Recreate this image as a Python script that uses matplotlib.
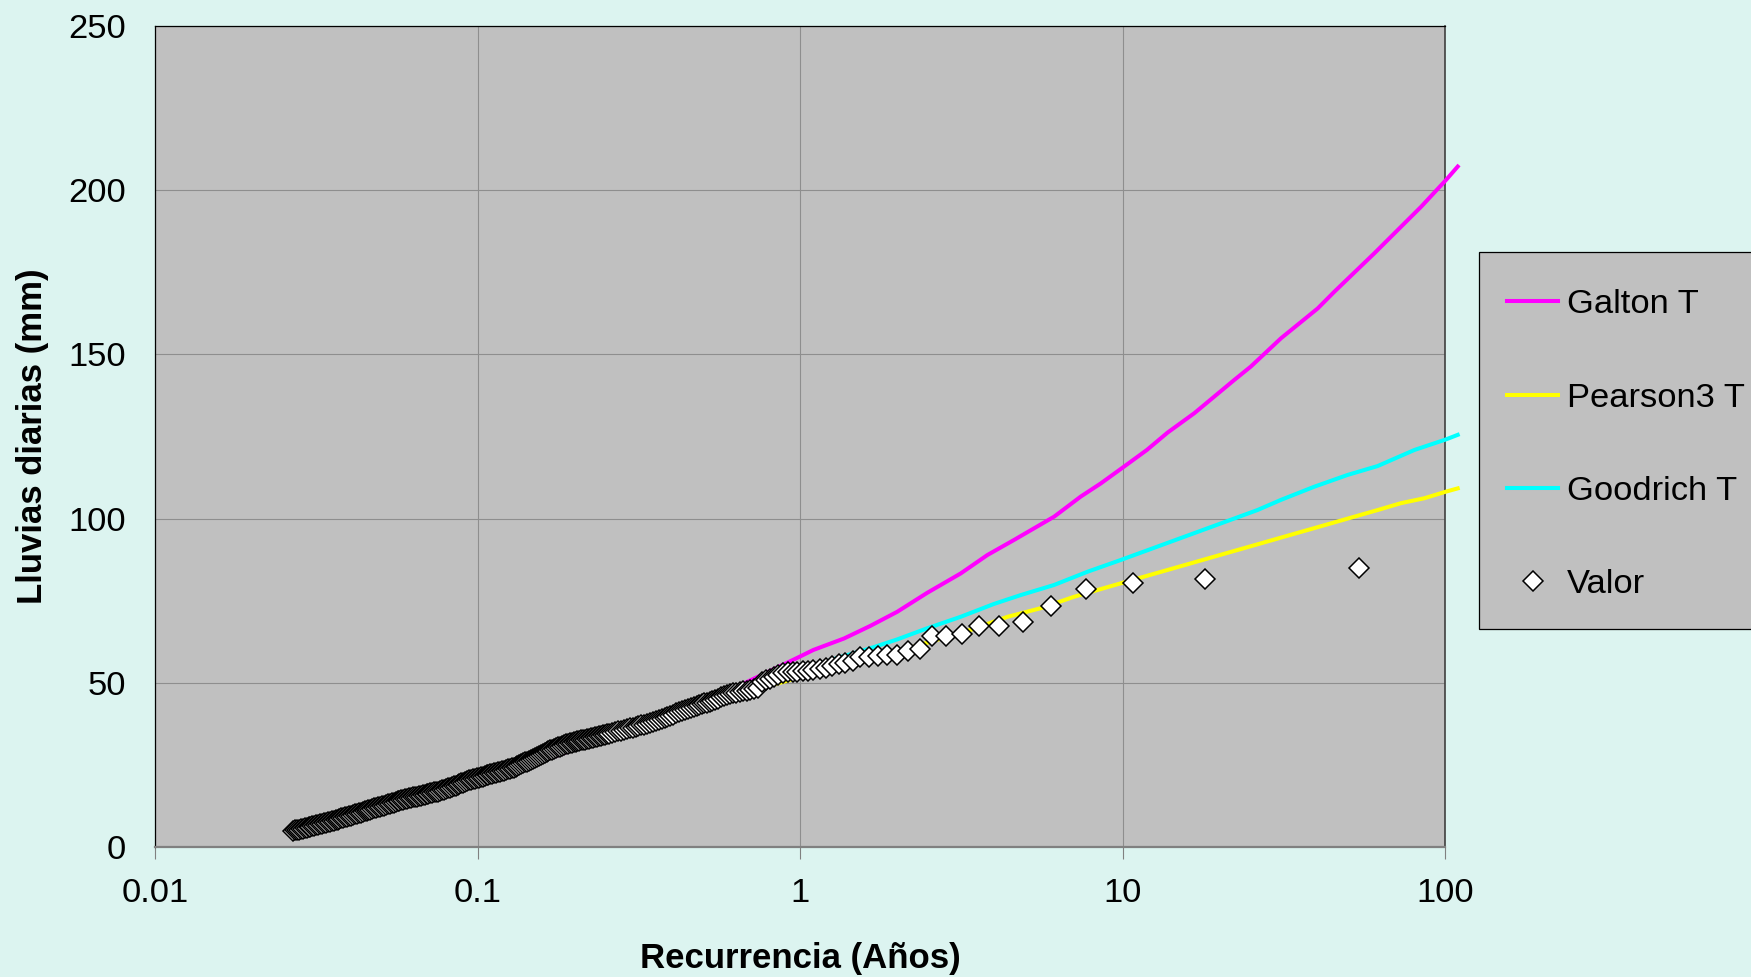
import numpy as np
import matplotlib
matplotlib.use("Agg")
import matplotlib.pyplot as plt
from matplotlib.patches import Rectangle
from matplotlib.ticker import FixedLocator, FixedFormatter, NullLocator

plt.rcParams['font.family'] = ['Liberation Sans', 'DejaVu Sans']

# ---------------- data ----------------
# isolated observed points (Recurrencia in years, Valor in mm)
valor_T = [54.0, 18.0, 10.8, 7.71, 6.0, 4.91, 4.15, 3.6, 3.18, 2.84,
           2.57, 2.35, 2.16, 2.0, 1.86, 1.74, 1.64, 1.54, 1.46, 1.38,
           1.32, 1.26, 1.2, 1.15, 1.10, 1.06, 1.02, 0.98, 0.95, 0.92]
valor_mm = [84.9, 81.7, 80.5, 78.5, 73.4, 68.4, 67.4, 67.4, 64.8, 64.4,
            64.2, 60.2, 59.6, 58.5, 58.5, 58.2, 58.0, 57.8, 56.7, 56.0,
            55.6, 55.2, 54.6, 54.2, 53.9, 53.7, 53.5, 53.4, 53.3, 53.2]

# dense band of observed points (log10 of Recurrencia, Valor in mm)
banda_log10_T = [
    -1.572, -1.566, -1.560, -1.554, -1.548, -1.542,
    -1.536, -1.530, -1.524, -1.518, -1.512, -1.506, -1.500,
    -1.494, -1.488, -1.482, -1.476, -1.470, -1.464, -1.458, -1.452, -1.446, -1.440,
    -1.434, -1.428, -1.422, -1.416, -1.410, -1.404,
    -1.398, -1.392, -1.386, -1.380, -1.374, -1.368, -1.362, -1.356, -1.350, -1.344, -1.338,
    -1.332, -1.326, -1.320, -1.314, -1.308, -1.302, -1.296, -1.290, -1.284,
    -1.278, -1.272, -1.266, -1.260, -1.254, -1.248, -1.242, -1.236, -1.230,
    -1.224, -1.218, -1.212, -1.206, -1.200, -1.194, -1.188, -1.182,
    -1.176, -1.170, -1.164, -1.158, -1.152, -1.146, -1.140, -1.134, -1.128,
    -1.122, -1.116, -1.110, -1.104, -1.098, -1.092, -1.086, -1.080,
    -1.074, -1.068, -1.062, -1.056, -1.050, -1.044, -1.038, -1.032, -1.026,
    -1.020, -1.014, -1.008, -1.002, -0.996, -0.990, -0.984, -0.978, -0.972,
    -0.966, -0.960, -0.954, -0.948, -0.942, -0.936, -0.930, -0.924,
    -0.918, -0.912, -0.906, -0.900, -0.894, -0.888, -0.882,
    -0.876, -0.870, -0.864, -0.858, -0.852, -0.846, -0.840,
    -0.834, -0.828, -0.822, -0.816, -0.810, -0.804, -0.798,
    -0.792, -0.786, -0.780, -0.774, -0.768, -0.762, -0.756, -0.750, -0.744, -0.738,
    -0.732, -0.726, -0.720, -0.714, -0.708, -0.702, -0.696, -0.690, -0.684,
    -0.678, -0.672, -0.666, -0.660, -0.654, -0.648, -0.642, -0.636, -0.630,
    -0.624, -0.618, -0.612, -0.606, -0.600,
    -0.591, -0.582, -0.573, -0.564, -0.555, -0.546, -0.537, -0.528,
    -0.519, -0.510, -0.501, -0.492, -0.483, -0.474,
    -0.465, -0.456, -0.447, -0.438, -0.429,
    -0.420, -0.411, -0.402, -0.393, -0.384, -0.375,
    -0.366, -0.357, -0.348, -0.339, -0.330,
    -0.3207, -0.3129, -0.3050, -0.2970, -0.2889, -0.2804, -0.2719,
    -0.2632, -0.2544, -0.2454, -0.2361, -0.2266, -0.2170, -0.2071,
    -0.1970, -0.1866, -0.1761, -0.1653, -0.1541, -0.1427, -0.1309,
    -0.1189, -0.1065, -0.0937, -0.0805, -0.0670, -0.0530,
]
banda_mm = [
    5.0, 5.1, 5.2, 5.3, 5.5, 5.6,
    5.7, 5.9, 6.0, 6.2, 6.3, 6.5, 6.6,
    6.8, 6.9, 7.1, 7.2, 7.4, 7.6, 7.7, 7.9, 8.0, 8.2,
    8.35, 8.5, 8.7, 8.9, 9.0, 9.2,
    9.35, 9.5, 9.7, 9.9, 10.1, 10.3, 10.5, 10.7, 10.9, 11.1, 11.3,
    11.4, 11.6, 11.8, 11.9, 12.1, 12.3, 12.5, 12.6, 12.8,
    12.95, 13.1, 13.3, 13.5, 13.7, 13.9, 14.0, 14.2, 14.4,
    14.5, 14.7, 14.8, 14.9, 15.1, 15.2, 15.3, 15.5,
    15.6, 15.7, 15.9, 16.0, 16.2, 16.3, 16.5, 16.6, 16.8,
    16.9, 17.1, 17.3, 17.5, 17.7, 17.9, 18.1, 18.3,
    18.5, 18.7, 19.0, 19.2, 19.4, 19.6, 19.8, 20.0, 20.3,
    20.45, 20.6, 20.8, 20.9, 21.1, 21.3, 21.4, 21.6, 21.8,
    21.9, 22.1, 22.2, 22.4, 22.6, 22.7, 22.9, 23.1,
    23.2, 23.4, 23.6, 23.8, 24.0, 24.2, 24.4,
    24.7, 25.0, 25.2, 25.5, 25.8, 26.0, 26.3,
    26.6, 26.9, 27.2, 27.5, 27.8, 28.1, 28.4,
    28.6, 28.9, 29.1, 29.4, 29.6, 29.9, 30.1, 30.4, 30.6, 30.9,
    31.1, 31.3, 31.4, 31.6, 31.7, 31.9, 32.0, 32.2, 32.3,
    32.45, 32.6, 32.7, 32.9, 33.0, 33.2, 33.3, 33.4, 33.6,
    33.7, 33.9, 34.0, 34.2, 34.3,
    34.5, 34.7, 35.0, 35.2, 35.4, 35.6, 35.8, 36.1,
    36.3, 36.6, 36.8, 37.1, 37.3, 37.6,
    37.85, 38.1, 38.4, 38.7, 39.0,
    39.3, 39.7, 40.0, 40.3, 40.7, 41.0,
    41.3, 41.7, 42.0, 42.3, 42.6,
    42.9, 43.2, 43.5, 43.8, 44.0, 44.3, 44.6,
    44.9, 45.2, 45.6, 45.9, 46.2, 46.6, 46.8,
    47.0, 47.2, 47.4, 47.6, 47.8, 48.0, 48.3,
    50.2, 50.8, 51.3, 51.9, 52.4, 52.9,
]

# fitted distributions
galton_T = [0.027, 0.04, 0.06, 0.1, 0.17, 0.3, 0.5, 0.67, 0.89, 1.0, 1.1, 1.37,
            1.65, 2.0, 2.48, 3.15, 3.81, 4.61, 6.14, 7.42, 8.56, 10.1, 11.9,
            13.8, 16.7, 22.2, 25.0, 31.0, 40.3, 45.4, 60.4, 84.4, 100.7, 109.5]
galton_mm = [5.0, 9.5, 14.5, 21.0, 27.3, 36.0, 44.0, 49.8, 55.6, 58.0, 60.0, 63.5,
             67.3, 71.6, 77.4, 83.3, 88.9, 93.5, 100.6, 106.7, 110.7, 115.8, 120.9,
             126.2, 132.1, 142.2, 146.3, 154.9, 164.0, 169.1, 180.8, 195.0, 203.1, 207.2]

pearson_T = [0.027, 0.06, 0.1, 0.17, 0.3, 0.5, 0.89, 1.0, 1.65, 2.48, 3.38, 4.4,
             5.57, 7.08, 9.88, 61.8, 73.0, 86.3, 100.6, 109.5]
pearson_mm = [5.0, 14.5, 20.8, 27.5, 36.0, 43.8, 50.3, 51.8, 57.0, 62.2, 66.1, 70.1,
              72.7, 76.2, 80.3, 102.6, 104.7, 106.2, 108.2, 109.2]

goodrich_T = [0.027, 0.06, 0.1, 0.17, 0.3, 0.5, 0.89, 1.0, 1.3, 1.65, 2.0, 2.48,
              3.15, 3.99, 4.83, 6.14, 7.78, 9.88, 26.2, 31.0, 39.3, 49.9, 61.8,
              80.4, 100.6, 109.5]
goodrich_mm = [5.2, 14.8, 21.0, 28.0, 36.5, 44.5, 52.0, 53.8, 57.5, 60.5, 63.2, 66.6,
               70.1, 74.0, 76.7, 79.8, 83.8, 87.4, 102.6, 105.7, 109.7, 113.3, 116.0,
               120.9, 124.1, 125.5]

x_ticks = [0.01, 0.1, 1, 10, 100]
x_tick_labels = ['0.01', '0.1', '1', '10', '100']
y_ticks = [0, 50, 100, 150, 200, 250]

# ---------------- figure ----------------
W, H = 1751, 977
FS = 24.8
fig = plt.figure(figsize=(W / 100, H / 100), dpi=100)
bg = '#DCF4F0'
fig.patch.set_facecolor(bg)

ax = fig.add_axes([155 / W, 1 - 847 / H, (1445 - 155) / W, (847 - 26) / H])
ax.set_facecolor('#C0C0C0')
ax.set_xscale('log')
ax.set_xlim(0.01, 100)
ax.set_ylim(0, 250)

ax.grid(True, which='major', color='#8E8E8E', linewidth=0.8, zorder=0)
ax.set_axisbelow(True)

lw = 2.9
ax.plot(galton_T, galton_mm, color='#FF00FF', lw=lw, label='Galton T', clip_on=False, zorder=3)
ax.plot(pearson_T, pearson_mm, color='#FFFF00', lw=lw, label='Pearson3 T', clip_on=False, zorder=3)
ax.plot(goodrich_T, goodrich_mm, color='#00FFFF', lw=lw, label='Goodrich T', clip_on=False, zorder=3)

obs_T = np.concatenate([10 ** np.array(banda_log10_T), np.array(valor_T)])
obs_mm = np.concatenate([np.array(banda_mm), np.array(valor_mm)])
order = np.argsort(obs_T)
ax.plot(obs_T[order], obs_mm[order], linestyle='none', marker='D', markersize=10.6,
        markerfacecolor='white', markeredgecolor='black', markeredgewidth=1.1,
        label='Valor', zorder=4)

ax.xaxis.set_major_locator(FixedLocator(x_ticks))
ax.xaxis.set_major_formatter(FixedFormatter(x_tick_labels))
ax.xaxis.set_minor_locator(NullLocator())
ax.yaxis.set_major_locator(FixedLocator(y_ticks))
ax.tick_params(axis='x', which='major', direction='out', length=8.6, width=0.8,
               color='#808080', pad=14, labelsize=FS)
ax.tick_params(axis='y', which='major', length=0, pad=21, labelsize=FS)

ax.spines['left'].set_color('black')
ax.spines['left'].set_linewidth(0.9)
ax.spines['top'].set_color('black')
ax.spines['top'].set_linewidth(0.9)
ax.spines['right'].set_color('#404040')
ax.spines['right'].set_linewidth(1.2)
ax.spines['bottom'].set_color('#808080')
ax.spines['bottom'].set_linewidth(1.6)

fig.text(800 / W, 1 - 968 / H, 'Recurrencia (Años)', ha='center', va='baseline',
         fontsize=25, fontweight='bold')
fig.text(32.5 / W, 1 - 436.5 / H, 'Lluvias diarias (mm)', ha='center', va='center',
         rotation=90, fontsize=25, fontweight='bold')

# legend box (extends past the right edge of the figure)
fig.patches.append(Rectangle((1479 / W, 1 - 629 / H), (1765 - 1479) / W, (629 - 252) / H,
                             transform=fig.transFigure, facecolor='#C0C0C0',
                             edgecolor='black', linewidth=0.9, zorder=-1))
leg = ax.legend(loc='upper left', bbox_to_anchor=(1507 / W, 1 - 289 / H),
                bbox_transform=fig.transFigure, frameon=False, fontsize=FS,
                handlelength=1.49, handletextpad=0.26, labelspacing=1.81,
                borderpad=0, borderaxespad=0, numpoints=1)

fig.savefig('out.png', dpi=100, facecolor=bg)
